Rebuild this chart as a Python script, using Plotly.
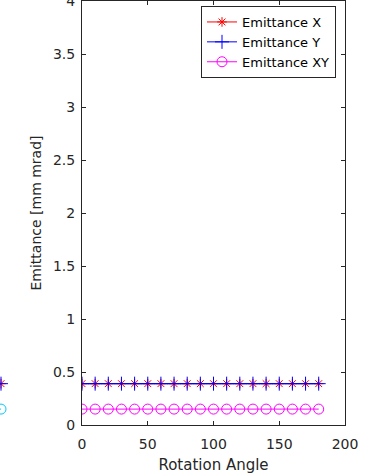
import plotly.graph_objects as go

# Rotation angle scan (degrees) and measured emittance values [mm mrad]
angles = [0, 10, 20, 30, 40, 50, 60, 70, 80, 90, 100, 110, 120, 130, 140, 150, 160, 170, 180]
emit_x = [0.39, 0.39, 0.39, 0.39, 0.39, 0.39, 0.39, 0.39, 0.39, 0.39,
          0.39, 0.39, 0.39, 0.39, 0.39, 0.39, 0.39, 0.39, 0.39]
emit_y = [0.39, 0.39, 0.39, 0.39, 0.39, 0.39, 0.39, 0.39, 0.39, 0.39,
          0.39, 0.39, 0.39, 0.39, 0.39, 0.39, 0.39, 0.39, 0.39]
emit_xy = [0.15, 0.15, 0.15, 0.15, 0.15, 0.15, 0.15, 0.15, 0.15, 0.15,
           0.15, 0.15, 0.15, 0.15, 0.15, 0.15, 0.15, 0.15, 0.15]

# Tail end of the neighbouring panel (left of this one)
prev_angles = [170, 180]
prev_x = [0.39, 0.39]
prev_y = [0.39, 0.39]
prev_xy = [0.15, 0.15]

x_ticks = [0, 50, 100, 150, 200]
y_ticks = [0, 0.5, 1, 1.5, 2, 2.5, 3, 3.5, 4]
y_tick_text = ["0", "0.5", "1", "1.5", "2", "2.5", "3", "3.5", "4"]

W, H = 390, 475
FONT = "DejaVu Sans, sans-serif"
INK = "#262626"

fig = go.Figure()

# neighbour panel remnants
fig.add_trace(go.Scatter(x=prev_angles, y=prev_x, xaxis="x2", yaxis="y",
                         mode="lines+markers", line=dict(color="red", width=1),
                         marker=dict(symbol="asterisk-open", size=8, line=dict(color="red", width=1)),
                         showlegend=False, cliponaxis=False))
fig.add_trace(go.Scatter(x=prev_angles, y=prev_y, xaxis="x2", yaxis="y",
                         mode="lines+markers", line=dict(color="blue", width=1),
                         marker=dict(symbol="cross-thin-open", size=10, line=dict(color="blue", width=1)),
                         showlegend=False, cliponaxis=False))
fig.add_trace(go.Scatter(x=prev_angles, y=prev_xy, xaxis="x2", yaxis="y",
                         mode="lines+markers", line=dict(color="#00c8ff", width=1),
                         marker=dict(symbol="circle-open", size=10, line=dict(color="#00c8ff", width=1)),
                         showlegend=False, cliponaxis=False))

fig.add_trace(go.Scatter(x=angles, y=emit_x, name="Emittance X",
                         mode="lines+markers", line=dict(color="red", width=1),
                         marker=dict(symbol="asterisk-open", size=8, line=dict(color="red", width=1))))
fig.add_trace(go.Scatter(x=angles, y=emit_y, name="Emittance Y",
                         mode="lines+markers", line=dict(color="blue", width=1),
                         marker=dict(symbol="cross-thin-open", size=10, line=dict(color="blue", width=1))))
fig.add_trace(go.Scatter(x=angles, y=emit_xy, name="Emittance XY",
                         mode="lines+markers", line=dict(color="magenta", width=1),
                         marker=dict(symbol="circle-open", size=10, line=dict(color="magenta", width=1))))

axis_common = dict(showgrid=False, zeroline=False, showline=True, linecolor=INK, linewidth=1,
                   mirror="ticks", ticks="inside", ticklen=4, tickcolor=INK,
                   ticklabeloverflow="allow",
                   tickfont=dict(family=FONT, size=14, color=INK))

fig.update_layout(
    width=W, height=H,
    margin=dict(l=0, r=0, t=0, b=0),
    paper_bgcolor="white", plot_bgcolor="white",
    font=dict(family=FONT, color=INK),
    xaxis=dict(domain=[82 / W, 345 / W], range=[0, 200], tickvals=x_ticks,
               ticklabelstandoff=6,
               title=dict(text="Rotation Angle", font=dict(family=FONT, size=15, color=INK), standoff=8),
               automargin=False, **axis_common),
    yaxis=dict(domain=[50 / H, 474 / H], range=[0, 4], tickvals=y_ticks, ticktext=y_tick_text,
               ticklabelstandoff=3,
               title=dict(text="Emittance [mm mrad]", font=dict(family=FONT, size=14, color=INK), standoff=8),
               automargin=False, **axis_common),
    xaxis2=dict(domain=[0, 4 / W], range=[179.5, 181.5], visible=False, anchor="y"),
    legend=dict(x=336 / W, xanchor="right", y=1 - 6 / H, yanchor="top",
                bgcolor="white", bordercolor=INK, borderwidth=1,
                font=dict(family=FONT, size=13, color="#000000"),
                tracegroupgap=0, itemwidth=30),
)

fig.write_html("out.html")
